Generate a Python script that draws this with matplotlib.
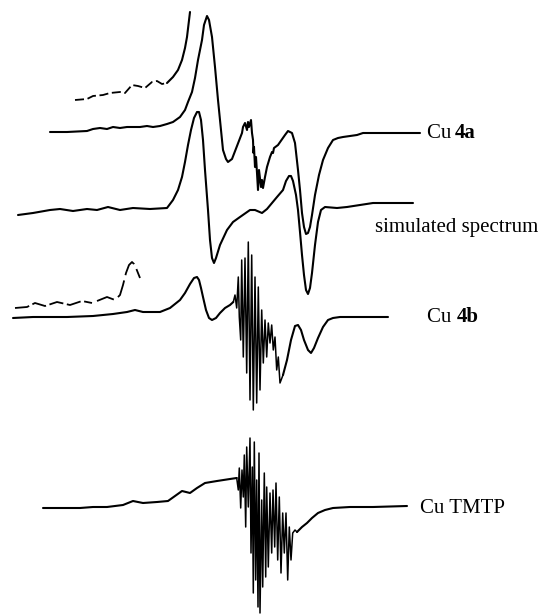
import numpy as np
import matplotlib.pyplot as plt

plt.rcParams['font.family'] = ['Liberation Serif', 'DejaVu Serif']

# EPR traces (x = field position, y = signal, both in pixel units)
cu4a_x = [50, 67, 87, 93, 100, 107, 113, 120, 127, 133, 140, 147, 153, 160, 167, 173, 180, 185,
          188, 192, 195, 198, 202, 204, 207, 209,
          212, 215, 218, 221, 223, 226, 228, 232, 237, 242, 243, 245, 247, 248, 249, 251, 252,
          253, 253.5, 254, 255, 256, 257, 258, 259, 261, 262, 263, 265, 267, 270, 272, 273, 274,
          278, 285, 288, 292, 295, 298, 300, 302, 304, 306, 308, 310, 312, 315, 319, 323, 328,
          333, 338, 343, 350, 357, 363, 373, 420]
cu4a_y = [132, 132, 131, 129, 128, 129, 127, 128, 127, 127, 127, 126, 127, 126, 124, 122, 117, 110,
          102, 92, 78, 60, 40, 25, 16, 20,
          37, 67, 100, 130, 150, 159, 162, 159, 146, 133, 127, 123, 130, 122, 127, 120, 133,
          140, 153, 147, 167, 157, 173, 190, 170, 187, 180, 188, 177, 167, 157, 152, 153, 148,
          145, 135, 131, 133, 143, 170, 190, 213, 227, 234, 233, 227, 215, 195, 175, 160, 148,
          140, 138, 137, 136, 135, 133, 133, 133]

cu4a_exp_x = [75, 87, 93, 103, 110, 120, 125, 132, 138, 145, 152, 157, 162, 167]
cu4a_exp_y = [100, 99, 96, 95, 93, 92, 93, 85, 86, 88, 82, 81, 84, 83]
cu4a_exp2_x = [167, 173, 178, 182, 185, 187, 190]
cu4a_exp2_y = [83, 77, 70, 60, 48, 37, 12]

sim_x = [18, 33, 50, 60, 73, 87, 97, 108, 120, 133, 150, 167, 173, 178, 182, 185, 188, 191, 194,
         197, 199, 201, 203, 205, 208, 210, 212, 214, 216, 220, 227, 233, 240, 250, 255, 262,
         267, 277, 283, 286, 289, 291, 293, 296, 298, 300, 302, 304, 306, 308, 310, 312, 315,
         318, 321, 325, 337, 347, 360, 373, 413]
sim_y = [215, 213, 210, 209, 211, 209, 210, 207, 210, 208, 209, 208, 200, 190, 177, 162, 145, 130,
         118, 112, 112, 120, 140, 170, 210, 240, 258, 263, 258, 245, 230, 222, 217, 210, 210,
         213, 209, 197, 190, 181, 176, 176, 181, 195, 210, 232, 255, 275, 290, 294, 288, 273,
         245, 222, 210, 207, 208, 207, 205, 203, 203]

cu4b_x = [13, 33, 67, 93, 113, 127, 135, 143, 160, 170, 180, 185, 190, 194, 197, 199, 201, 203,
          206, 209, 212, 216, 220, 225, 230, 233.3, 235, 236.7, 238.3, 239.3, 240.7, 241.7,
          243.3, 245, 246.7, 248.3, 250, 251.7, 253.3, 255, 256.7, 258.3, 260, 261.7, 263.3,
          265, 266.7, 268.3, 270, 271.7, 273.3, 275, 276.7, 278.3, 280, 283, 287, 291, 295, 298,
          301, 304, 308, 311, 314, 318, 323, 328, 333, 340, 360, 388]
cu4b_y = [318, 317, 317, 316, 314, 312, 310, 312, 312, 308, 300, 293, 284, 278, 277, 280, 288, 297,
          310, 318, 320, 318, 313, 308, 305, 302, 295, 308, 277, 317, 340, 260, 357, 258, 373,
          242, 400, 255, 410, 277, 403, 287, 390, 310, 363, 320, 357, 323, 343, 325, 350, 337,
          370, 357, 383, 375, 360, 340, 326, 325, 330, 340, 350, 353, 348, 338, 327, 320, 318,
          317, 317, 317]

cu4b_exp_x = [15, 27, 35, 45, 57, 70, 82, 92]
cu4b_exp_y = [308, 307, 303, 306, 302, 305, 301, 303]
cu4b_exp2_x = [97, 107, 115, 120, 123, 126, 129, 132, 134, 136, 140]
cu4b_exp2_y = [301, 297, 300, 295, 285, 273, 265, 262, 264, 268, 278]

tmtp_x = [43, 60, 80, 93, 107, 123, 133, 143, 157, 168, 175, 182, 190, 197, 205, 217, 230, 236.7,
          238.3, 239.3, 240.7, 242, 243.3, 244.3, 245.7, 246.7, 248.3, 250, 251, 252.3, 253.3,
          254.3, 255.7, 256.7, 258, 259, 260, 261.7, 262.7, 264.3, 265.7, 266.7, 268.3, 270,
          271.7, 273, 274.7, 276, 277.7, 279.3, 281, 282.7, 284.3, 286, 287.7, 289.3, 291,
          292.7, 295, 297, 302, 307, 312, 318, 325, 333, 350, 373, 407]
tmtp_y = [508, 508, 508, 507, 507, 505, 501, 503, 502, 501, 496, 491, 493, 488, 483, 481, 479, 478,
          490, 468, 508, 470, 497, 455, 527, 447, 507, 438, 553, 467, 593, 442, 580, 480, 607,
          453, 613, 500, 587, 473, 577, 487, 567, 493, 553, 490, 547, 483, 560, 497, 573, 513,
          553, 513, 580, 527, 560, 533, 530, 532, 527, 523, 518, 513, 510, 508, 507, 507, 506]

labels = ['Cu ', 'simulated spectrum', 'Cu ', 'Cu TMTP']

fig = plt.figure(figsize=(5.44, 6.16), dpi=100)
ax = fig.add_axes([0, 0, 1, 1])
ax.set_xlim(0, 544)
ax.set_ylim(616, 0)
ax.axis('off')

k = dict(color='black', lw=1.5, solid_joinstyle='round', solid_capstyle='round')
ax.plot(cu4a_x, cu4a_y, **k)
ax.plot(cu4a_exp_x, cu4a_exp_y, color='black', lw=1.3, dashes=(5, 2))
ax.plot(cu4a_exp2_x, cu4a_exp2_y, **k)
ax.plot(sim_x, sim_y, **k)
ax.plot(cu4b_x[:26], cu4b_y[:26], **k)
ax.plot(cu4b_x[25:56], cu4b_y[25:56], color='black', lw=1.1)
ax.plot(cu4b_x[55:], cu4b_y[55:], **k)
ax.plot(cu4b_exp_x, cu4b_exp_y, color='black', lw=1.3, dashes=(8, 2))
ax.plot(cu4b_exp2_x, cu4b_exp2_y, color='black', lw=1.3, dashes=(10, 3))
ax.plot(tmtp_x[:18], tmtp_y[:18], **k)
ax.plot(tmtp_x[17:60], tmtp_y[17:60], color='black', lw=1.1)
ax.plot(tmtp_x[59:], tmtp_y[59:], **k)

fs = 15
ax.text(427, 138, labels[0], fontsize=fs, va='baseline')
ax.text(455, 138, '4a', fontsize=fs, fontweight='bold', va='baseline')
ax.text(375, 232, labels[1], fontsize=fs, va='baseline')
ax.text(427, 322, labels[2], fontsize=fs, va='baseline')
ax.text(457, 322, '4b', fontsize=fs, fontweight='bold', va='baseline')
ax.text(420, 513, labels[3], fontsize=fs, va='baseline')

fig.savefig('out.png', dpi=100)
